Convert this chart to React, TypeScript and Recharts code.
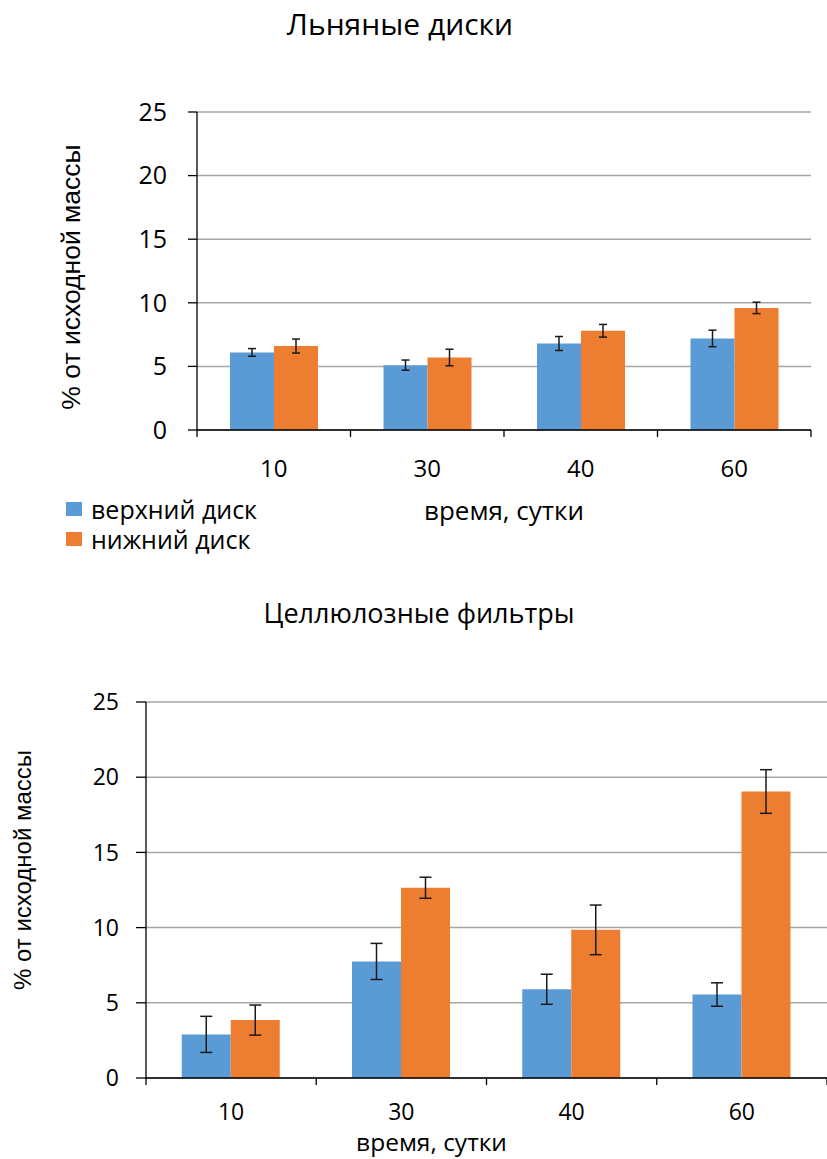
import React from 'react';
import { BarChart, Bar, XAxis, YAxis, CartesianGrid, ErrorBar, Legend } from 'recharts';

const categories = ['10', '30', '40', '60'];
const flaxUpper = [6.1, 5.1, 6.8, 7.2];
const flaxUpperErr = [0.3, 0.4, 0.55, 0.65];
const flaxLower = [6.6, 5.7, 7.8, 9.6];
const flaxLowerErr = [0.55, 0.65, 0.5, 0.45];
const celUpper = [2.9, 7.75, 5.9, 5.55];
const celUpperErr = [1.2, 1.2, 1.0, 0.78];
const celLower = [3.85, 12.65, 9.85, 19.05];
const celLowerErr = [1.0, 0.7, 1.65, 1.45];
const yTicks = [0, 5, 10, 15, 20, 25];
const seriesNames = ['верхний диск', 'нижний диск'];
const titles = ['Льняные диски', 'Целлюлозные фильтры'];
const xTitle = 'время, сутки';
const yTitle = '% от исходной массы';

const BLUE = '#5B9BD5';
const ORANGE = '#ED7D31';
const CAL = '"Open Sans", sans-serif';
const ARIAL = '"Liberation Sans", Arial, sans-serif';

const flaxData = categories.map((c, i) => ({
  cat: c,
  upper: flaxUpper[i],
  upperErr: flaxUpperErr[i],
  lower: flaxLower[i],
  lowerErr: flaxLowerErr[i],
}));
const celData = categories.map((c, i) => ({
  cat: c,
  upper: celUpper[i],
  upperErr: celUpperErr[i],
  lower: celLower[i],
  lowerErr: celLowerErr[i],
}));

const makeTick = (fontSize: number, textDrop: number, tickLen: number) => (props: any) => {
  const { x, y, payload, index, visibleTicksCount } = props;
  const half = payload && payload.offset ? payload.offset : 0;
  const last = index === visibleTicksCount - 1;
  return (
    <g>
      <line x1={x - half} x2={x - half} y1={y} y2={y + tickLen} stroke="#000" strokeWidth={1.3} />
      {last && <line x1={x + half} x2={x + half} y1={y} y2={y + tickLen} stroke="#000" strokeWidth={1.3} />}
      <text x={x} y={y + textDrop} textAnchor="middle" fontSize={fontSize} fontFamily={CAL} fill="#000">
        {payload.value}
      </text>
    </g>
  );
};

const LegendContent = (props: any) => {
  const items = props.payload || [];
  return (
    <div style={{ fontFamily: CAL, fontSize: 25, lineHeight: '28px', color: '#000' }}>
      {items.map((it: any, i: number) => (
        <div key={i} style={{ display: 'flex', alignItems: 'center', height: 30, whiteSpace: 'nowrap' }}>
          <span style={{ display: 'inline-block', width: 16, height: 14, background: it.color, marginRight: 9 }} />
          <span style={{ lineHeight: '28px' }}>{it.value}</span>
        </div>
      ))}
    </div>
  );
};

export default function App() {
  return (
    <div style={{ position: 'absolute', left: 0, top: 0, width: 827, height: 1159, background: '#fff' }}>
      <div style={{ position: 'absolute', left: 150, width: 500, top: 6, lineHeight: '36px', textAlign: 'center', fontFamily: CAL, fontSize: 30, color: '#000' }}>
        {titles[0]}
      </div>
      <div style={{ position: 'absolute', left: 169, width: 500, top: 595, lineHeight: '36px', textAlign: 'center', fontFamily: CAL, fontSize: 27, color: '#000' }}>
        {titles[1]}
      </div>

      <div style={{ position: 'absolute', left: 0, top: 0 }}>
        <BarChart
          width={827}
          height={560}
          data={flaxData}
          margin={{ top: 112, right: 16, bottom: 100, left: 0 }}
          barCategoryGap="21.5%"
          barGap={0}
        >
          <CartesianGrid vertical={false} stroke="#A6A6A6" strokeWidth={1.5} />
          <XAxis
            dataKey="cat"
            height={30}
            tickSize={0}
            tickMargin={0}
            axisLine={{ stroke: '#000', strokeWidth: 1.5 }}
            tickLine={false}
            tick={makeTick(24, 47, 7)}
            interval={0}
            label={{ value: xTitle, position: 'bottom', offset: 42, fontSize: 26, fontFamily: CAL, fill: '#000' }}
          />
          <YAxis
            width={197}
            domain={[0, 25]}
            ticks={yTicks}
            interval={0}
            tickSize={9}
            tickMargin={21}
            axisLine={{ stroke: '#000', strokeWidth: 1.3 }}
            tickLine={{ stroke: '#000', strokeWidth: 1.3 }}
            tick={{ fontSize: 25, fontFamily: CAL, fill: '#000' }}
            label={{ value: yTitle, angle: -90, position: 'insideLeft', offset: 71, dy: 6, fontSize: 26.5, fontFamily: ARIAL, fill: '#000', style: { textAnchor: 'middle' } }}
          />
          <Bar dataKey="upper" name={seriesNames[0]} fill={BLUE} isAnimationActive={false}>
            <ErrorBar dataKey="upperErr" width={4} stroke="#1a1a1a" strokeWidth={1.5} isAnimationActive={false} />
          </Bar>
          <Bar dataKey="lower" name={seriesNames[1]} fill={ORANGE} isAnimationActive={false}>
            <ErrorBar dataKey="lowerErr" width={4} stroke="#1a1a1a" strokeWidth={1.5} isAnimationActive={false} />
          </Bar>
          <Legend
            layout="vertical"
            align="center"
            verticalAlign="middle"
            content={LegendContent}
            wrapperStyle={{ position: 'absolute', left: 66, top: 494, width: 280, height: 60 }}
          />
        </BarChart>
      </div>

      <div style={{ position: 'absolute', left: 0, top: 560 }}>
        <BarChart
          width={827}
          height={599}
          data={celData}
          margin={{ top: 142, right: 0, bottom: 51, left: 0 }}
          barCategoryGap="21%"
          barGap={0}
        >
          <CartesianGrid vertical={false} stroke="#A6A6A6" strokeWidth={1.5} />
          <XAxis
            dataKey="cat"
            height={30}
            tickSize={0}
            tickMargin={0}
            axisLine={{ stroke: '#000', strokeWidth: 1.5 }}
            tickLine={false}
            tick={makeTick(23, 42, 7)}
            interval={0}
            label={{ value: xTitle, position: 'bottom', offset: 26, dx: -55, fontSize: 24.5, fontFamily: CAL, fill: '#000' }}
          />
          <YAxis
            width={146}
            domain={[0, 25]}
            ticks={yTicks}
            interval={0}
            tickSize={10}
            tickMargin={17}
            axisLine={{ stroke: '#000', strokeWidth: 1.3 }}
            tickLine={{ stroke: '#000', strokeWidth: 1.3 }}
            tick={{ fontSize: 23, fontFamily: CAL, fill: '#000' }}
            label={{ value: yTitle, angle: -90, position: 'insideLeft', offset: 22, dy: -20, fontSize: 24, fontFamily: ARIAL, fill: '#000', style: { textAnchor: 'middle' } }}
          />
          <Bar dataKey="upper" name={seriesNames[0]} fill={BLUE} isAnimationActive={false}>
            <ErrorBar dataKey="upperErr" width={6} stroke="#1a1a1a" strokeWidth={1.5} isAnimationActive={false} />
          </Bar>
          <Bar dataKey="lower" name={seriesNames[1]} fill={ORANGE} isAnimationActive={false}>
            <ErrorBar dataKey="lowerErr" width={6} stroke="#1a1a1a" strokeWidth={1.5} isAnimationActive={false} />
          </Bar>
        </BarChart>
      </div>
    </div>
  );
}
